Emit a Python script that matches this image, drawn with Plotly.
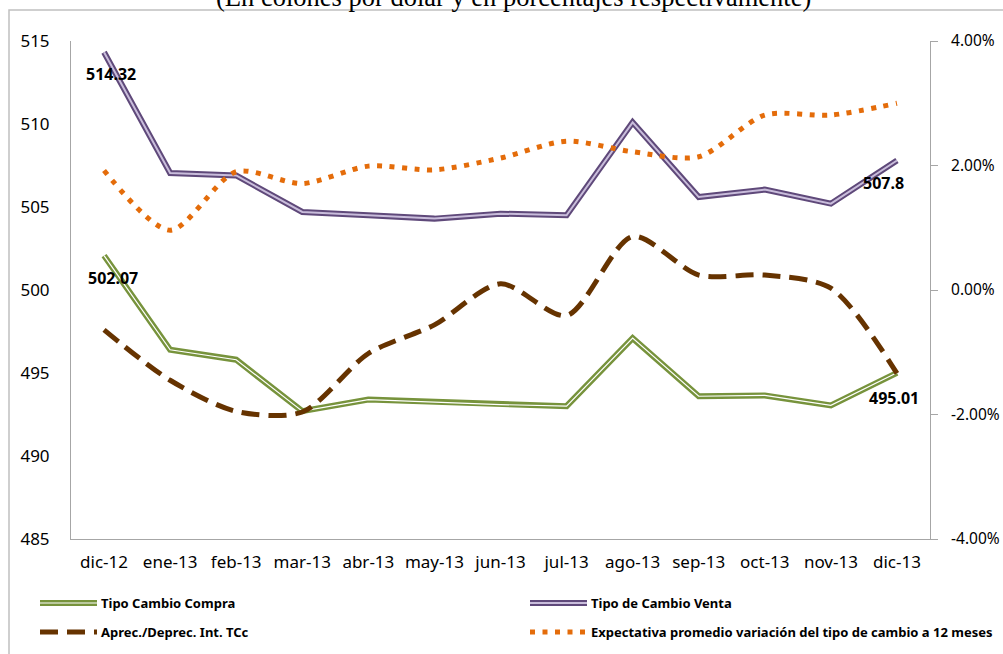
import plotly.graph_objects as go

# ---------------- data ----------------
categories = ["dic-12", "ene-13", "feb-13", "mar-13", "abr-13", "may-13", "jun-13",
              "jul-13", "ago-13", "sep-13", "oct-13", "nov-13", "dic-13"]
compra = [502.07, 496.4, 495.8, 492.7, 493.4, 493.25, 493.1, 493.0, 497.1, 493.6, 493.65, 493.05, 495.01]
venta = [514.32, 507.05, 506.9, 504.7, 504.5, 504.3, 504.6, 504.5, 510.1, 505.6, 506.05, 505.2, 507.8]
aprec = [-0.64, -1.45, -1.95, -1.96, -1.02, -0.56, 0.10, -0.41, 0.86, 0.24, 0.24, 0.03, -1.34]
expect = [1.92, 0.96, 1.90, 1.71, 1.99, 1.93, 2.12, 2.39, 2.22, 2.14, 2.81, 2.81, 3.00]

left_ticks = [485, 490, 495, 500, 505, 510, 515]
right_ticks = [-4, -2, 0, 2, 4]
right_ticklabels = ["-4.00%", "-2.00%", "0.00%", "2.00%", "4.00%"]

title_text = "(En colones por dólar y en porcentajes respectivamente)"
legend_names = ["Tipo Cambio Compra", "Tipo de Cambio Venta",
                "Aprec./Deprec. Int. TCc",
                "Expectativa promedio variación del tipo de cambio a 12 meses"]

# ---------------- styles ----------------
GREEN = "#77933c"
PURPLE_DARK = "#5f497a"
PURPLE_LIGHT = "#c9bddb"
BROWN = "#663300"
ORANGE = "#e46c0a"
AXIS = "#a6a6a6"
FONT = "Noto Sans"

W, H = 1003, 654
L, R, T, B = 71, 73, 41, 115
PW, PH = W - L - R, H - T - B


def px2x(px):
    return (px - L) / PW


def py2y(py):
    return (H - B - py) / PH


fig = go.Figure()

# Compra (double line)
fig.add_trace(go.Scatter(x=categories, y=compra, mode="lines",
                         line=dict(color=GREEN, width=6), hoverinfo="skip", showlegend=False))
fig.add_trace(go.Scatter(x=categories, y=compra, mode="lines",
                         line=dict(color="white", width=1.2), hoverinfo="skip", showlegend=False))
# Venta (double line)
fig.add_trace(go.Scatter(x=categories, y=venta, mode="lines",
                         line=dict(color=PURPLE_DARK, width=6), hoverinfo="skip", showlegend=False))
fig.add_trace(go.Scatter(x=categories, y=venta, mode="lines",
                         line=dict(color=PURPLE_LIGHT, width=2), hoverinfo="skip", showlegend=False))
# Aprec./Deprec. (dashed, right axis)
fig.add_trace(go.Scatter(x=categories, y=aprec, mode="lines", yaxis="y2",
                         line=dict(color=BROWN, width=5, dash="18px,9px", shape="spline", smoothing=0.8),
                         hoverinfo="skip", showlegend=False))
# Expectativa (dotted, right axis)
fig.add_trace(go.Scatter(x=categories, y=expect, mode="lines", yaxis="y2",
                         line=dict(color=ORANGE, width=5, dash="5px,7.5px", shape="spline", smoothing=0.8),
                         hoverinfo="skip", showlegend=False))

annotations = []
# data labels
lab_font = dict(family=FONT, size=16, color="black", weight="bold")
for idx, series, xs, ys in [(0, venta, 7, -22), (0, compra, 9, -22),
                            (12, venta, -13, -22), (12, compra, -3, -25)]:
    v = series[idx]
    txt = f"{v:g}"
    annotations.append(dict(x=categories[idx], y=v, xref="x", yref="y", text=txt,
                            showarrow=False, xshift=xs, yshift=ys, font=lab_font))

# title (clipped at top, as in the original)
annotations.append(dict(x=px2x(513), y=py2y(-3), xref="paper", yref="paper", text=title_text,
                        showarrow=False, xanchor="center", yanchor="middle",
                        font=dict(family="Liberation Serif", size=26.5, color="black")))

shapes = []
# outer chart border
shapes.append(dict(type="rect", xref="paper", yref="paper",
                   x0=px2x(9), x1=px2x(1012), y0=py2y(670), y1=py2y(10),
                   line=dict(color="#c0c0c0", width=1.5), fillcolor="rgba(0,0,0,0)", layer="below"))

# manual legend
leg_font = dict(family=FONT, size=13, color="black", weight="bold")
rows = [603, 632]
cols = [(40, 97, 99), (530, 587, 589)]
items = [
    (0, 0, [(GREEN, 6, "solid"), ("white", 1.2, "solid")]),
    (0, 1, [(PURPLE_DARK, 6, "solid"), (PURPLE_LIGHT, 2, "solid")]),
    (1, 0, [(BROWN, 5, "18px,9px")]),
    (1, 1, [(ORANGE, 5, "5px,7.5px")]),
]
for (r, c, layers), name in zip(items, legend_names):
    x0, x1, xt = cols[c]
    yy = py2y(rows[r])
    for color, width, dash in layers:
        shapes.append(dict(type="line", xref="paper", yref="paper",
                           x0=px2x(x0), x1=px2x(x1), y0=yy, y1=yy,
                           line=dict(color=color, width=width, dash=dash)))
    annotations.append(dict(x=px2x(xt), y=yy, xref="paper", yref="paper", text=name,
                            showarrow=False, xanchor="left", yanchor="middle", font=leg_font))

fig.update_layout(
    width=W, height=H,
    margin=dict(l=L, r=R, t=T, b=B, autoexpand=False),
    paper_bgcolor="white", plot_bgcolor="white",
    showlegend=False,
    xaxis=dict(type="category", categoryorder="array", categoryarray=categories,
               range=[-0.5, 12.5], showline=True, linecolor=AXIS, linewidth=1,
               ticks="", showgrid=False, zeroline=False, automargin=False,
               ticklabelstandoff=8,
               tickfont=dict(family=FONT, size=17, color="black")),
    yaxis=dict(range=[485, 515], tickvals=left_ticks, showline=True, linecolor=AXIS, linewidth=1,
               ticks="", showgrid=False, zeroline=False, ticklabelstandoff=17, automargin=False,
               tickfont=dict(family=FONT, size=17, color="black")),
    yaxis2=dict(range=[-4, 4], tickvals=right_ticks, ticktext=right_ticklabels,
                overlaying="y", side="right", showline=True, linecolor=AXIS, linewidth=1,
                ticks="outside", ticklen=7, tickcolor=AXIS, showgrid=False, zeroline=False,
                ticklabelstandoff=10, automargin=False,
                tickfont=dict(family=FONT, size=15.5, color="black")),
    annotations=annotations,
    shapes=shapes,
)

fig.write_html("out.html", config={"displayModeBar": False},
               post_script="document.body.style.margin='0';document.body.style.overflow='hidden';")
